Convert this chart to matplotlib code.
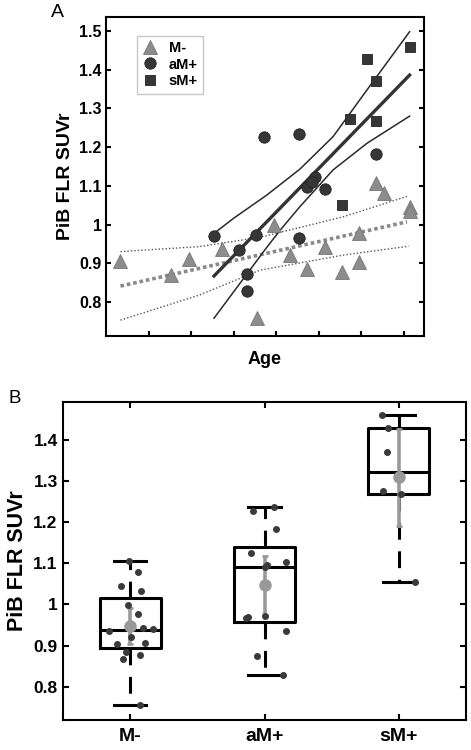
import numpy as np
import matplotlib
matplotlib.use("Agg")
import matplotlib.pyplot as plt
from matplotlib.ticker import FormatStrFormatter

plt.rcParams["font.family"] = ["Liberation Sans", "DejaVu Sans"]
plt.rcParams["font.weight"] = "bold"

# PANNEAU A : PiB vs age
mneg_age = [56.7, 62.6, 64.7, 68.6, 72.7, 74.7, 76.6, 78.6, 80.7, 82.7, 84.7, 84.7, 86.7, 87.7, 90.7, 90.7]
mneg_pib = [0.906, 0.869, 0.910, 0.936, 0.758, 1.000, 0.920, 0.886, 0.942, 0.877, 0.977, 0.902, 1.108, 1.082, 1.046, 1.035]

am_age = [67.7, 70.6, 71.6, 71.6, 72.6, 73.6, 77.7, 77.7, 78.6, 79.6, 79.2, 80.7, 86.7]
am_pib = [0.970, 0.934, 0.871, 0.827, 0.972, 1.226, 1.235, 0.964, 1.096, 1.124, 1.109, 1.091, 1.181]

sm_age = [83.7, 82.7, 85.7, 86.7, 86.7, 90.7]
sm_pib = [1.273, 1.050, 1.428, 1.370, 1.267, 1.459]

# droites de regression + IC
mneg_fit_age = [56.7, 90.4]
mneg_fit = [0.841, 1.007]
mneg_ci_age = [56.7, 66.0, 73.1, 82.9, 90.6]
mneg_ci_hi = [0.930, 0.943, 0.967, 1.020, 1.074]
mneg_ci_lo = [0.753, 0.818, 0.882, 0.921, 0.944]

mpos_fit_age = [67.7, 90.7]
mpos_fit = [0.867, 1.386]
mpos_hi_age = [67.7, 70.0, 73.9, 77.8, 81.7, 85.7, 90.7]
mpos_ci_hi = [0.977, 1.016, 1.076, 1.143, 1.227, 1.348, 1.498]
mpos_lo_age = [67.7, 73.8, 75.5, 77.8, 81.7, 85.7, 90.7]
mpos_ci_lo = [0.758, 0.938, 0.986, 1.046, 1.141, 1.210, 1.280]

# PANNEAU B : boxplots par groupe
groups = ["M-", "aM+", "sM+"]
b_mneg = [1.106, 1.078, 1.044, 1.032, 0.999, 0.976, 0.943, 0.941, 0.935, 0.920, 0.906, 0.904, 0.885, 0.876, 0.868, 0.755]
b_mneg_dx = [-0.012, 0.057, -0.069, 0.079, -0.017, 0.057, 0.094, 0.166, -0.156, 0.005, 0.106, -0.101, -0.035, 0.069, -0.057, 0.074]
b_am = [1.227, 1.236, 1.183, 1.126, 1.104, 1.096, 1.091, 0.970, 0.966, 0.973, 0.936, 0.874, 0.829]
b_am_dx = [-0.087, 0.074, 0.087, -0.099, 0.161, 0.020, 0.0, -0.124, -0.136, 0.0, 0.161, -0.057, 0.136]
b_sm = [1.461, 1.428, 1.371, 1.275, 1.269, 1.054]
b_sm_dx = [-0.124, -0.082, -0.087, -0.119, 0.017, 0.124]

b_values = [b_mneg, b_am, b_sm]
b_dx = [b_mneg_dx, b_am_dx, b_sm_dx]

gray = "#8c8c8c"
dark = "#363636"

fig = plt.figure(figsize=(4.71, 7.5), dpi=100)

#  PANNEAU A
ax = fig.add_axes([0.2251, 0.552, 0.6752, 0.4253])
ax.plot(mneg_ci_age, mneg_ci_hi, linestyle=(0, (1, 1.5)), color="#555555", lw=1.0)
ax.plot(mneg_ci_age, mneg_ci_lo, linestyle=(0, (1, 1.5)), color="#555555", lw=1.0)
ax.plot(mneg_fit_age, mneg_fit, linestyle=(0, (1, 0.8)), color="#8a8a8a", lw=2.6)
ax.plot(mpos_hi_age, mpos_ci_hi, color="#2a2a2a", lw=1.1)
ax.plot(mpos_lo_age, mpos_ci_lo, color="#2a2a2a", lw=1.1)
ax.plot(mpos_fit_age, mpos_fit, color="#333333", lw=2.4)

ax.plot(mneg_age, mneg_pib, "^", ms=9.5, color=gray, mec="#777777", mew=0.6, ls="none", label="M-")
ax.plot(am_age, am_pib, "o", ms=8.2, color=dark, mec="#222222", mew=0.6, ls="none", label="aM+")
ax.plot(sm_age, sm_pib, "s", ms=7.4, color=dark, mec="#222222", mew=0.6, ls="none", label="sM+")

ax.set_xlim(55, 92.4)
ax.set_ylim(0.712, 1.536)
ax.set_xticks([60, 65, 70, 75, 80, 85, 90])
ax.set_xticklabels([])
ax.set_yticks([0.8, 0.9, 1.0, 1.1, 1.2, 1.3, 1.4, 1.5])
ax.yaxis.set_major_formatter(FormatStrFormatter("%g"))
ax.tick_params(direction="in", length=3.5, width=1.5, right=True, labelsize=11.5, pad=3)
for s in ax.spines.values():
    s.set_linewidth(1.5)
ax.set_xlabel("Age", fontsize=13, fontweight="bold", labelpad=8)
ax.set_ylabel("PiB FLR SUVr", fontsize=14, fontweight="bold", labelpad=4)
leg = ax.legend(loc="upper left", bbox_to_anchor=(0.098, 0.942), fontsize=10.5, frameon=True,
                fancybox=False, edgecolor="#bbbbbb", handlelength=1.1, handletextpad=0.7,
                borderpad=0.35, labelspacing=0.2, borderaxespad=0)
leg.get_frame().set_linewidth(1.0)
fig.text(0.123, 0.983, "A", fontsize=14, fontweight="normal", ha="center", va="center")

#  PANNEAU B
bx = fig.add_axes([0.1344, 0.04, 0.8544, 0.4244])
stats = []
for vals in b_values:
    v = np.array(vals)
    q1, med, q3 = np.percentile(v, [25, 50, 75], method="hazen")
    iqr = q3 - q1
    lo = v[v >= q1 - 1.5 * iqr].min()
    hi = v[v <= q3 + 1.5 * iqr].max()
    stats.append({"med": med, "q1": q1, "q3": q3, "whislo": lo, "whishi": hi, "fliers": []})

bx.bxp(stats, positions=[1, 2, 3], widths=0.45, showfliers=False,
       boxprops=dict(color="black", lw=2.2),
       medianprops=dict(color="black", lw=2.2),
       whiskerprops=dict(color="black", lw=2.2, linestyle=(0, (5.5, 3.8))),
       capprops=dict(color="black", lw=2.2), capwidths=0.24)

# moyenne +/- IC 95% en gris
for i, vals in enumerate(b_values):
    v = np.array(vals)
    m = v.mean()
    ci = 1.96 * v.std(ddof=1) / np.sqrt(len(v))
    bx.errorbar(i + 1, m, yerr=ci, fmt="o", ms=8, color="#999999", ecolor="#999999",
                elinewidth=2.6, capsize=2, capthick=2, zorder=3)

for i, vals in enumerate(b_values):
    xs = [i + 1 + d for d in b_dx[i]]
    bx.plot(xs, vals, "o", ms=4, color="#3a3a3a", ls="none", zorder=4)

bx.set_xlim(0.5, 3.5)
bx.set_ylim(0.719, 1.493)
bx.set_xticks([1, 2, 3])
bx.set_xticklabels(groups)
bx.set_yticks([0.8, 0.9, 1.0, 1.1, 1.2, 1.3, 1.4])
bx.yaxis.set_major_formatter(FormatStrFormatter("%g"))
bx.tick_params(direction="in", length=4, width=1.5, right=True, top=True, labelsize=12.5, pad=4)
bx.tick_params(axis="x", labelsize=14, pad=6)
for s in bx.spines.values():
    s.set_linewidth(1.5)
bx.set_ylabel("PiB FLR SUVr", fontsize=15.5, fontweight="bold", labelpad=4)
fig.text(0.032, 0.469, "B", fontsize=13.5, fontweight="normal", ha="center", va="center")

fig.savefig("out.png", dpi=100)
